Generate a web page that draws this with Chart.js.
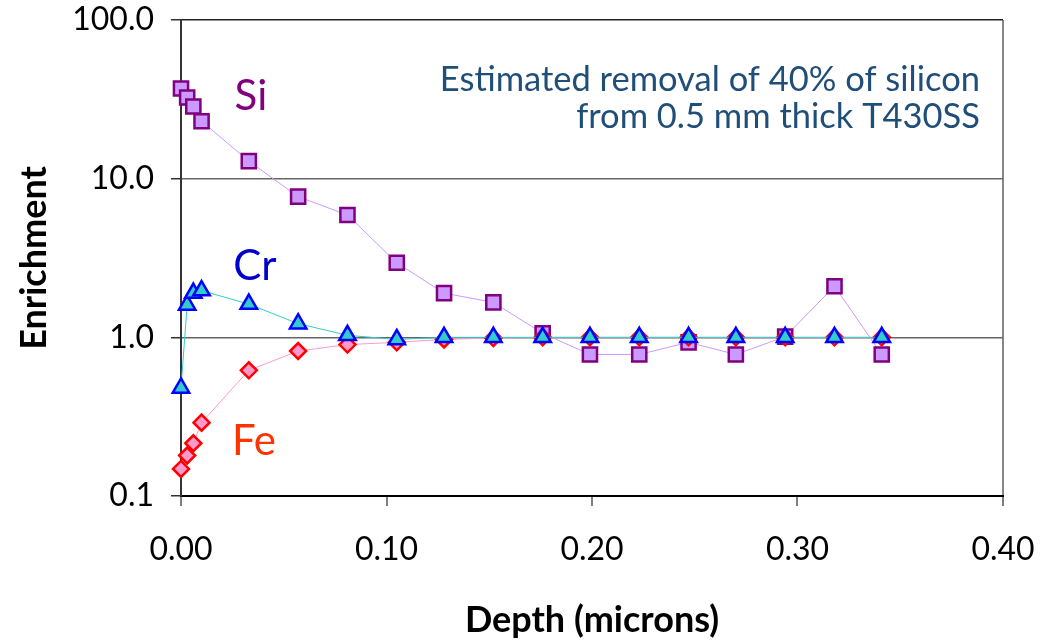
<!DOCTYPE html>
<html>
<head>
<meta charset="utf-8">
<script src="https://cdn.jsdelivr.net/npm/chart.js@4"></script>
<style>
  html, body { margin: 0; padding: 0; background: #fff; }
  #wrap { width: 1059px; height: 642px; }
</style>
</head>
<body>
<div id="wrap"><canvas id="MiGrafica" width="1059" height="642"></canvas></div>
<script>
// depth in microns, shared by all three elements
var depth = [0, 0.003, 0.006, 0.010, 0.033, 0.057, 0.081, 0.105, 0.128, 0.152, 0.176, 0.199, 0.223, 0.247, 0.270, 0.294, 0.318, 0.341];

var si = [37, 32.5, 28.5, 23, 12.9, 7.7, 5.9, 2.95, 1.9, 1.66, 1.06, 0.78, 0.78, 0.93, 0.78, 1.01, 2.1, 0.78];
var cr = [0.48, 1.6, 1.9, 1.97, 1.62, 1.22, 1.03, 0.97, 1.0, 1.0, 1.0, 1.0, 1.0, 1.0, 1.0, 1.0, 1.0, 1.0];
var fe = [0.148, 0.18, 0.215, 0.29, 0.62, 0.82, 0.9, 0.93, 0.97, 0.99, 1.0, 1.0, 1.0, 1.0, 1.0, 1.0, 1.0, 1.0];

var yTicks = [0.1, 1, 10, 100];
var yTickLabels = ['0.1', '1.0', '10.0', '100.0'];

// text placed on the plot, in data coordinates
var notes = [
    { text: 'Si', x: 0.034, y: 33, color: '#800080', size: 42, align: 'center' },
    { text: 'Cr', x: 0.036, y: 2.81, color: '#0000CC', size: 42, align: 'center' },
    { text: 'Fe', x: 0.0355, y: 0.22, color: '#FF3300', size: 42, align: 'center' },
    { text: 'Estimated removal of 40% of silicon', x: 0.3888, y: 35.8, color: '#1F4E79', size: 34.5, align: 'right', base: 'alphabetic' },
    { text: 'from 0.5 mm thick T430SS', x: 0.3888, y: 20.9, color: '#1F4E79', size: 34.5, align: 'right', base: 'alphabetic' }
];

pares = (ys) => ys.map(function (v, i) { return { x: depth[i], y: v }; });

var FONT = 'Lato, "Open Sans", sans-serif';

var notasPlugin = {
    id: 'notas',
    afterDatasetsDraw: function (chart) {
        var ctx = chart.ctx;
        var xs = chart.scales.x, ys = chart.scales.y;
        ctx.save();
        notes.forEach(function (n) {
            ctx.font = n.size + 'px ' + FONT;
            ctx.fillStyle = n.color;
            ctx.textAlign = n.align;
            ctx.textBaseline = n.base || 'middle';
            ctx.fillText(n.text, xs.getPixelForValue(n.x), ys.getPixelForValue(n.y));
        });
        ctx.restore();
    }
};

var ctx = document.getElementById('MiGrafica').getContext('2d');
var myChart = new Chart(ctx, {
    type: 'scatter',
    data: {
        datasets: [{
            label: 'Cr',
            data: pares(cr),
            showLine: true,
            clip: false,
            borderColor: '#33CCCC',
            borderWidth: 1,
            pointStyle: 'triangle',
            pointRadius: 9.5,
            pointBackgroundColor: '#33CCCC',
            pointBorderColor: '#0000FF',
            pointBorderWidth: 2.5
        }, {
            label: 'Fe',
            data: pares(fe),
            showLine: true,
            clip: false,
            borderColor: '#FF99CC',
            borderWidth: 1,
            pointStyle: 'rectRot',
            pointRadius: 8,
            pointBackgroundColor: '#FF99CC',
            pointBorderColor: '#FF0000',
            pointBorderWidth: 2.5
        }, {
            label: 'Si',
            data: pares(si),
            showLine: true,
            clip: false,
            borderColor: '#CC99FF',
            borderWidth: 1,
            pointStyle: 'rect',
            pointRadius: 10,
            pointBackgroundColor: '#CC99FF',
            pointBorderColor: '#800080',
            pointBorderWidth: 2.5
        }]
    },
    options: {
        responsive: false,
        animation: false,
        layout: { padding: { top: 20, right: 56, left: 0, bottom: 0 } },
        plugins: {
            legend: { display: false },
            tooltip: { enabled: false }
        },
        scales: {
            x: {
                type: 'linear',
                min: 0,
                max: 0.4,
                afterFit: function (s) { s.height = 146; },
                ticks: {
                    stepSize: 0.1,
                    padding: 24,
                    color: '#000',
                    font: { family: FONT, size: 32 },
                    callback: function (v) { return Number(v).toFixed(2); }
                },
                grid: {
                    drawOnChartArea: true,
                    tickLength: 10,
                    color: function (c) { return (c.tick && Math.abs(c.tick.value - 0.4) < 1e-9) ? '#888' : 'rgba(0,0,0,0)'; },
                    lineWidth: 2,
                    tickColor: '#555',
                    tickWidth: 1.5
                },
                border: { color: '#000', width: 2 },
                title: {
                    display: true,
                    text: 'Depth (microns)',
                    color: '#000',
                    font: { family: FONT, size: 36, weight: 'bold', lineHeight: 1.2 },
                    padding: { top: 0, bottom: 0 }
                }
            },
            y: {
                type: 'logarithmic',
                min: 0.1,
                max: 100,
                afterFit: function (s) {
                    s.width = 181;
                    s.paddingTop = 0;
                    s.paddingBottom = 0;
                },
                afterBuildTicks: function (s) {
                    s.ticks = yTicks.map(function (v) { return { value: v, major: true }; });
                },
                ticks: {
                    padding: 17,
                    color: '#000',
                    font: { family: FONT, size: 32 },
                    autoSkip: false,
                    callback: function (v) {
                        var i = yTicks.indexOf(v);
                        return i >= 0 ? yTickLabels[i] : '';
                    }
                },
                grid: {
                    tickLength: 10,
                    color: function (c) { return (c.tick && c.tick.value === 100) ? '#222' : '#666'; },
                    lineWidth: 1.5,
                    tickColor: '#333'
                },
                border: { color: '#333', width: 2 },
                title: {
                    display: true,
                    text: 'Enrichment',
                    color: '#000',
                    font: { family: FONT, size: 36, weight: 'bold', lineHeight: 1.2 },
                    padding: { top: 13, bottom: 0 }
                }
            }
        }
    },
    plugins: [notasPlugin]
});
</script>
</body>
</html>
